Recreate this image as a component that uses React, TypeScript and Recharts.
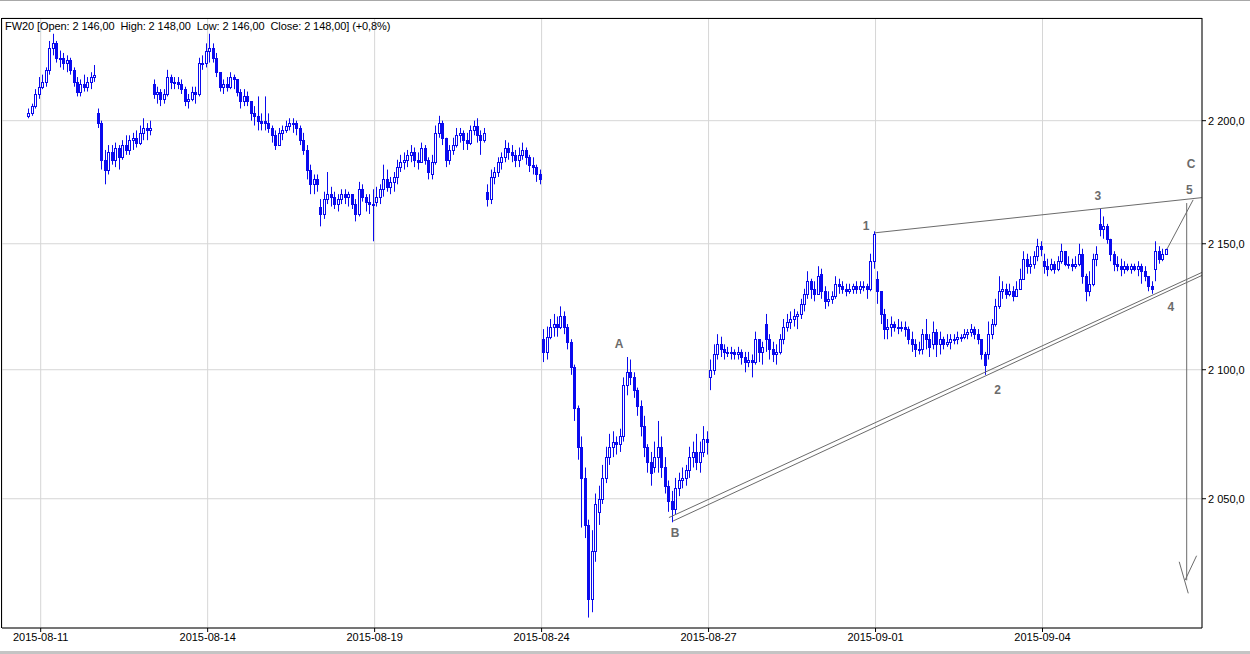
import {
  ComposedChart,
  Bar,
  XAxis,
  YAxis,
  CartesianGrid,
  ReferenceLine,
  ReferenceDot,
} from "recharts";

const FONT = "'Liberation Sans', Arial, sans-serif";
const BLUE = "#0a0aee";
const ANNO = "#6b6b6b";
const SLOTS_PER_DAY = 16;

// bars per session as [high, low, close]; each bar opens at the previous close
const d0810 = [[2205, 2201, 2203], [2207, 2202, 2206], [2213, 2205, 2211], [2218, 2209, 2214]];
const d0811 = [
  [2219, 2213, 2216], [2222, 2214, 2221], [2233, 2219, 2230], [2236, 2227, 2232],
  [2233, 2224, 2226], [2229, 2222, 2226], [2228, 2221, 2224], [2227, 2220, 2225],
  [2226, 2219, 2221], [2222, 2214, 2216], [2218, 2210, 2212], [2217, 2210, 2215],
  [2219, 2212, 2214], [2218, 2212, 2216], [2220, 2213, 2218], [2223, 2216, 2219],
];
const d0812 = [
  [2205, 2197, 2199], [2200, 2180, 2184], [2188, 2174, 2180], [2190, 2178, 2187],
  [2190, 2182, 2184], [2191, 2181, 2189], [2190, 2180, 2185], [2192, 2184, 2190],
  [2194, 2186, 2188], [2194, 2186, 2192], [2195, 2188, 2193], [2196, 2189, 2191],
  [2198, 2190, 2195], [2201, 2192, 2197], [2199, 2192, 2196], [2200, 2194, 2197],
];
const d0813 = [
  [2217, 2209, 2211], [2214, 2207, 2212], [2213, 2206, 2209], [2213, 2207, 2211],
  [2221, 2210, 2218], [2219, 2213, 2216], [2218, 2213, 2216], [2218, 2213, 2215],
  [2217, 2211, 2213], [2214, 2206, 2208], [2211, 2205, 2209], [2214, 2208, 2212],
  [2214, 2207, 2211], [2226, 2210, 2224], [2227, 2221, 2224], [2232, 2222, 2229],
];
const d0814 = [
  [2236, 2224, 2230], [2232, 2224, 2226], [2228, 2218, 2220], [2220, 2212, 2214],
  [2217, 2211, 2215], [2218, 2212, 2214], [2220, 2213, 2218], [2219, 2213, 2217],
  [2217, 2210, 2212], [2213, 2205, 2208], [2213, 2206, 2210], [2212, 2206, 2208],
  [2208, 2200, 2203], [2206, 2198, 2202], [2210, 2196, 2200], [2203, 2196, 2199],
];
const d0817 = [
  [2210, 2196, 2199], [2203, 2195, 2197], [2198, 2191, 2194], [2196, 2188, 2190],
  [2197, 2190, 2195], [2198, 2192, 2196], [2200, 2195, 2198], [2201, 2196, 2199],
  [2201, 2195, 2199], [2200, 2194, 2197], [2198, 2190, 2192], [2195, 2186, 2188],
  [2190, 2176, 2180], [2182, 2170, 2174], [2178, 2170, 2176], [2178, 2171, 2174],
];
const d0818 = [
  [2168, 2157, 2162], [2171, 2160, 2168], [2179, 2166, 2170], [2173, 2165, 2169],
  [2171, 2164, 2166], [2170, 2163, 2168], [2172, 2166, 2170], [2172, 2166, 2169],
  [2171, 2165, 2170], [2170, 2164, 2166], [2168, 2159, 2162], [2175, 2161, 2172],
  [2174, 2167, 2169], [2170, 2163, 2167], [2170, 2162, 2166], [2172, 2151, 2166],
];
const d0819 = [
  [2173, 2165, 2169], [2174, 2166, 2172], [2182, 2169, 2176], [2180, 2171, 2173],
  [2177, 2170, 2175], [2179, 2171, 2177], [2184, 2174, 2181], [2186, 2179, 2183],
  [2187, 2180, 2184], [2188, 2181, 2186], [2190, 2183, 2187], [2189, 2181, 2184],
  [2187, 2180, 2183], [2191, 2183, 2189], [2190, 2182, 2184], [2185, 2176, 2179],
];
const d0820 = [
  [2186, 2176, 2183], [2198, 2182, 2195], [2202, 2193, 2199], [2200, 2190, 2193],
  [2193, 2181, 2184], [2190, 2182, 2188], [2193, 2186, 2190], [2197, 2189, 2194],
  [2197, 2191, 2195], [2196, 2188, 2192], [2195, 2188, 2191], [2198, 2190, 2196],
  [2200, 2194, 2198], [2201, 2191, 2194], [2196, 2186, 2192], [2197, 2191, 2195],
];
const d0821 = [
  [2174, 2165, 2168], [2180, 2166, 2177], [2181, 2174, 2179], [2185, 2177, 2183],
  [2187, 2180, 2185], [2192, 2183, 2189], [2191, 2184, 2187], [2190, 2183, 2186],
  [2188, 2181, 2184], [2189, 2181, 2186], [2191, 2184, 2188], [2189, 2182, 2185],
  [2186, 2179, 2182], [2185, 2178, 2181], [2182, 2175, 2178], [2180, 2174, 2176],
];
const d0824 = [
  [2116, 2103, 2107], [2117, 2104, 2113], [2120, 2112, 2117], [2122, 2113, 2118],
  [2121, 2113, 2117], [2125, 2116, 2121], [2123, 2114, 2117], [2118, 2108, 2111],
  [2112, 2098, 2101], [2102, 2080, 2085], [2086, 2065, 2070], [2074, 2039, 2058],
  [2062, 2035, 2040], [2042, 2005, 2012], [2038, 2007, 2030], [2052, 2026, 2048],
];
const d0825 = [
  [2055, 2040, 2050], [2063, 2048, 2058], [2070, 2056, 2066], [2075, 2063, 2070],
  [2076, 2066, 2072], [2074, 2067, 2071], [2077, 2068, 2074], [2097, 2072, 2094],
  [2105, 2090, 2099], [2104, 2094, 2097], [2099, 2089, 2092], [2093, 2082, 2086],
  [2088, 2074, 2078], [2082, 2066, 2070], [2071, 2060, 2064], [2068, 2055, 2060],
];
const d0826 = [
  [2072, 2060, 2066], [2080, 2060, 2070], [2074, 2058, 2062], [2066, 2052, 2055],
  [2057, 2045, 2049], [2053, 2041, 2046], [2058, 2044, 2054], [2060, 2051, 2057],
  [2062, 2054, 2058], [2063, 2055, 2061], [2070, 2058, 2066], [2072, 2062, 2068],
  [2075, 2061, 2064], [2072, 2060, 2068], [2078, 2066, 2073], [2076, 2067, 2072],
];
const d0827 = [
  [2104, 2092, 2100], [2110, 2098, 2106], [2114, 2104, 2110], [2113, 2105, 2108],
  [2110, 2104, 2107], [2109, 2105, 2107], [2109, 2104, 2107], [2108, 2104, 2106],
  [2109, 2104, 2107], [2108, 2102, 2105], [2107, 2099, 2103], [2107, 2101, 2104],
  [2106, 2097, 2103], [2115, 2102, 2112], [2111, 2103, 2107], [2111, 2102, 2109],
];
const d0828 = [
  [2122, 2107, 2112], [2114, 2104, 2108], [2111, 2103, 2106], [2110, 2102, 2107],
  [2114, 2106, 2112], [2120, 2110, 2117], [2122, 2115, 2119], [2123, 2116, 2120],
  [2124, 2117, 2121], [2123, 2116, 2122], [2128, 2120, 2126], [2132, 2123, 2130],
  [2139, 2128, 2135], [2136, 2128, 2132], [2135, 2127, 2130], [2141, 2130, 2137],
];
const d0831 = [
  [2140, 2128, 2131], [2133, 2124, 2127], [2131, 2125, 2128], [2131, 2126, 2129],
  [2137, 2128, 2134], [2136, 2130, 2133], [2135, 2130, 2132], [2134, 2129, 2131],
  [2134, 2130, 2132], [2134, 2130, 2133], [2135, 2130, 2132], [2135, 2130, 2133],
  [2135, 2131, 2133], [2134, 2128, 2132], [2146, 2131, 2143], [2155, 2140, 2154],
];
const d0901 = [
  [2139, 2126, 2131], [2131, 2118, 2122], [2124, 2112, 2116], [2120, 2112, 2117],
  [2121, 2113, 2118], [2119, 2115, 2117], [2120, 2114, 2117], [2119, 2115, 2117],
  [2119, 2113, 2116], [2117, 2110, 2112], [2115, 2107, 2110], [2112, 2105, 2108],
  [2111, 2106, 2108], [2116, 2106, 2114], [2120, 2108, 2112], [2114, 2105, 2109],
];
const d0902 = [
  [2119, 2108, 2115], [2116, 2105, 2110], [2115, 2106, 2112], [2113, 2108, 2110],
  [2114, 2109, 2111], [2114, 2108, 2112], [2114, 2110, 2112], [2115, 2110, 2113],
  [2114, 2111, 2113], [2116, 2112, 2114], [2116, 2112, 2115], [2118, 2113, 2116],
  [2117, 2112, 2114], [2116, 2110, 2112], [2112, 2104, 2106], [2107, 2098, 2102],
];
const d0903 = [
  [2119, 2104, 2114], [2120, 2112, 2118], [2128, 2117, 2125], [2137, 2124, 2131],
  [2135, 2128, 2132], [2134, 2128, 2130], [2134, 2129, 2131], [2133, 2127, 2129],
  [2135, 2129, 2132], [2140, 2132, 2136], [2147, 2136, 2144], [2146, 2138, 2141],
  [2145, 2138, 2142], [2147, 2140, 2145], [2152, 2143, 2149], [2151, 2145, 2148],
];
const d0904 = [
  [2146, 2138, 2141], [2144, 2137, 2140], [2144, 2139, 2142], [2143, 2138, 2140],
  [2145, 2139, 2143], [2150, 2142, 2147], [2147, 2141, 2142], [2145, 2140, 2142],
  [2144, 2139, 2141], [2145, 2140, 2142], [2150, 2141, 2146], [2148, 2134, 2137],
  [2138, 2127, 2131], [2139, 2129, 2134], [2146, 2133, 2144], [2149, 2141, 2146],
];
const d0907 = [
  [2164, 2153, 2156], [2161, 2152, 2157], [2158, 2150, 2152], [2152, 2143, 2146],
  [2147, 2139, 2142], [2145, 2139, 2141], [2144, 2137, 2140], [2143, 2138, 2141],
  [2142, 2139, 2140], [2142, 2138, 2141], [2142, 2139, 2140], [2143, 2137, 2141],
  [2142, 2134, 2139], [2141, 2135, 2137], [2137, 2131, 2133], [2135, 2130, 2132],
];
const d0908 = [[2151, 2135, 2147], [2149, 2142, 2144], [2148, 2143, 2146], [2148, 2146, 2148]];

// session list: first = bar slot of the first bar, open = open of the first bar
const sessions = [
  { date: "2015-08-10", first: 12, open: 2202, bars: d0810 },
  { date: "2015-08-11", first: 0, open: 2214, bars: d0811 },
  { date: "2015-08-12", first: 0, open: 2203, bars: d0812 },
  { date: "2015-08-13", first: 0, open: 2215, bars: d0813 },
  { date: "2015-08-14", first: 0, open: 2229, bars: d0814 },
  { date: "2015-08-17", first: 0, open: 2200, bars: d0817 },
  { date: "2015-08-18", first: 0, open: 2165, bars: d0818 },
  { date: "2015-08-19", first: 0, open: 2167, bars: d0819 },
  { date: "2015-08-20", first: 0, open: 2178, bars: d0820 },
  { date: "2015-08-21", first: 0, open: 2171, bars: d0821 },
  { date: "2015-08-24", first: 0, open: 2112, bars: d0824 },
  { date: "2015-08-25", first: 0, open: 2045, bars: d0825 },
  { date: "2015-08-26", first: 0, open: 2062, bars: d0826 },
  { date: "2015-08-27", first: 0, open: 2097, bars: d0827 },
  { date: "2015-08-28", first: 0, open: 2118, bars: d0828 },
  { date: "2015-08-31", first: 0, open: 2138, bars: d0831 },
  { date: "2015-09-01", first: 0, open: 2136, bars: d0901 },
  { date: "2015-09-02", first: 0, open: 2110, bars: d0902 },
  { date: "2015-09-03", first: 0, open: 2106, bars: d0903 },
  { date: "2015-09-04", first: 0, open: 2143, bars: d0904 },
  { date: "2015-09-07", first: 0, open: 2158, bars: d0907 },
  { date: "2015-09-08", first: 0, open: 2140, bars: d0908 },
];

const xTicks = [16, 64, 112, 160, 208, 256, 304];
const xTickLabels = ["2015-08-11", "2015-08-14", "2015-08-19", "2015-08-24", "2015-08-27", "2015-09-01", "2015-09-04"];
const yTicks = [2050, 2100, 2150, 2200];

// wave count: trend lines and labels (x in bar slots, y in price)
const waveLines = [
  [{ x: 255.85, y: 2154.4 }, { x: 349.8, y: 2168.6 }],
  [{ x: 196.6, y: 2042.8 }, { x: 349.8, y: 2138.5 }],
  [{ x: 197.8, y: 2041.5 }, { x: 349.8, y: 2137.3 }],
  [{ x: 339.8, y: 2147.9 }, { x: 347.3, y: 2167.7 }],
  [{ x: 345.45, y: 2166.4 }, { x: 345.45, y: 2019.0 }],
  [{ x: 343.3, y: 2026.0 }, { x: 345.9, y: 2014.1 }],
  [{ x: 348.3, y: 2028.3 }, { x: 345.0, y: 2019.1 }],
];
const waveLabels = [
  { text: "A", x: 182.3, y: 2110.1 },
  { text: "B", x: 198.4, y: 2036.9 },
  { text: "1", x: 253.3, y: 2157.1 },
  { text: "2", x: 291.1, y: 2092.1 },
  { text: "3", x: 319.9, y: 2169.3 },
  { text: "4", x: 340.9, y: 2124.8 },
  { text: "5", x: 346.2, y: 2171.7 },
  { text: "C", x: 346.7, y: 2182.3 },
];

interface Row {
  t: number;
  range: [number, number];
  open: number;
  high: number;
  low: number;
  close: number;
}

const rows: Row[] = sessions.flatMap((s, d) => {
  let prev = s.open;
  return s.bars.map(([high, low, close], i) => {
    const row = { t: d * SLOTS_PER_DAY + s.first + i + 0.5, range: [low, high] as [number, number], open: prev, high, low, close };
    prev = close;
    return row;
  });
});

// "2 200,0" style, with a no-break space so the tick text stays on one line
function fmtPrice(v: number) {
  const th = Math.floor(v / 1000);
  const rest = String(Math.round(v % 1000)).padStart(3, "0");
  return `${th}\u00a0${rest},0`;
}

function CandleShape(props: any) {
  const { x, y, width, height, payload } = props;
  if (x == null || y == null || !payload) return null;
  const cx = Math.round(x + width / 2) + 0.5;
  const lh = Math.log(payload.high);
  const span = lh - Math.log(payload.low);
  const py = (p: number) => (span > 0 ? y + (height * (lh - Math.log(p))) / span : y);
  const yo = py(payload.open);
  const yc = py(payload.close);
  const top = Math.round(Math.min(yo, yc)) + 0.5;
  const bot = Math.max(Math.round(Math.max(yo, yc)) + 0.5, top + 1);
  const up = payload.close >= payload.open;
  return (
    <g>
      <line x1={cx} x2={cx} y1={y} y2={y + height} stroke={BLUE} strokeWidth={1} />
      <rect x={cx - 1} y={top} width={2} height={bot - top} fill={up ? "#ffffff" : BLUE} stroke={BLUE} strokeWidth={1} />
    </g>
  );
}

export default function App() {
  return (
    <div style={{ position: "absolute", left: 0, top: 0, width: 1250, height: 654, background: "#fff", overflow: "hidden" }}>
      <div style={{ position: "absolute", left: 0, top: 0, width: 1250, height: 1, background: "#a8a8a8" }} />
      <div style={{ position: "absolute", left: 0, top: 651, width: 1250, height: 3, background: "#c4c4c4" }} />
      <ComposedChart
        width={1250}
        height={654}
        data={rows}
        margin={{ top: 18, right: 0, bottom: 0, left: 2 }}
      >
        <CartesianGrid stroke="#d6d6d6" />
        <XAxis
          type="number"
          dataKey="t"
          domain={[4.875, 349.85]}
          allowDataOverflow
          ticks={xTicks}
          interval={0}
          tickFormatter={(v: number) => xTickLabels[xTicks.indexOf(v)] ?? ""}
          height={26}
          tickSize={4}
          tickMargin={1}
          stroke="#000"
          tick={{ fontSize: 11, fill: "#000", fontFamily: FONT }}
        />
        <YAxis
          orientation="right"
          scale="log"
          domain={[2001.1, 2242.6]}
          allowDataOverflow
          ticks={yTicks}
          interval={0}
          tickFormatter={fmtPrice}
          width={48}
          tickSize={4}
          tickMargin={2}
          stroke="#000"
          tick={{ fontSize: 11, fill: "#000", fontFamily: FONT }}
        />
        <Bar dataKey="range" barSize={3} shape={<CandleShape />} isAnimationActive={false} />
        {waveLines.map((seg, i) => (
          <ReferenceLine key={i} segment={seg} stroke={ANNO} strokeWidth={1} ifOverflow="visible" />
        ))}
        {waveLabels.map((w) => (
          <ReferenceDot
            key={w.text}
            x={w.x}
            y={w.y}
            r={0}
            fill="none"
            stroke="none"
            ifOverflow="visible"
            label={{ value: w.text, position: "center", fill: ANNO, fontSize: 12, fontWeight: 700, fontFamily: FONT }}
          />
        ))}
      </ComposedChart>
      <div style={{ position: "absolute", left: 1, top: 18, width: 1201, height: 1, background: "#000" }} />
      <div style={{ position: "absolute", left: 1, top: 18, width: 1, height: 610, background: "#000" }} />
      <div
        style={{
          position: "absolute",
          left: 5,
          top: 20,
          fontFamily: FONT,
          fontSize: 11,
          lineHeight: "13px",
          letterSpacing: "-0.09px",
          color: "#000",
          whiteSpace: "pre",
        }}
      >
        {"FW20 [Open: 2 146,00  High: 2 148,00  Low: 2 146,00  Close: 2 148,00] (+0,8%)"}
      </div>
    </div>
  );
}
